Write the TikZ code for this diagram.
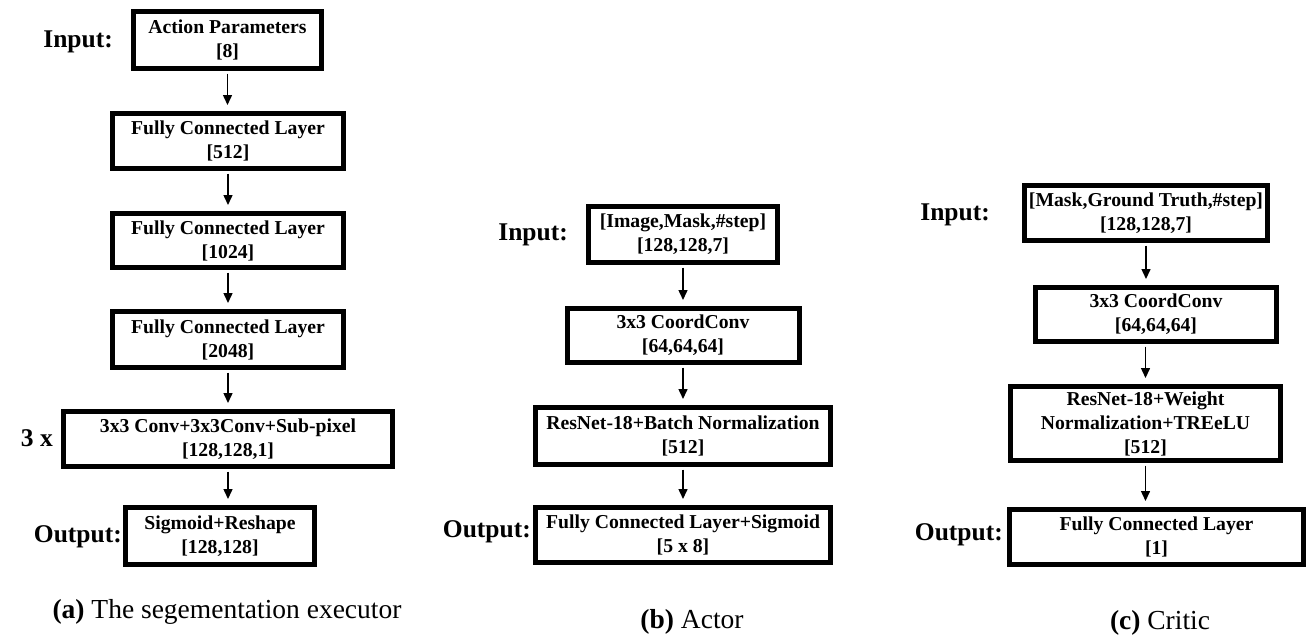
\documentclass[tikz,border=0pt]{standalone}
\usepackage{fontspec}
\setmainfont{Liberation Serif}
\usetikzlibrary{arrows.meta}
\tikzset{
	box/.style={draw, line width=5pt, align=center, inner sep=0pt, font=\bfseries\fontsize{19.7}{24}\selectfont},
	lbl/.style={anchor=east, inner sep=0pt, font=\bfseries\fontsize{25.5}{30}\selectfont},
	subcap/.style={inner sep=0pt, font=\fontsize{27.5}{32}\selectfont},
	flow/.style={->, line width=1.5pt, shorten <=2.5pt, shorten >=6pt}
}
\begin{document}
\begin{tikzpicture}[x=1pt, y=-1pt, >={Triangle[length=10pt, width=9pt]}]
		\useasboundingbox (0, 0) rectangle (1308, 634);
		% (a)
		\node [box, minimum width=188pt, minimum height=57pt] (0) at (227.5, 40) {Action Parameters\\{}[8]};
		\node [box, minimum width=231pt, minimum height=55pt] (1) at (228, 141) {Fully Connected Layer\\{}[512]};
		\node [box, minimum width=231pt, minimum height=54pt] (2) at (228, 240.5) {Fully Connected Layer\\{}[1024]};
		\node [box, minimum width=231pt, minimum height=56pt] (3) at (228, 339.5) {Fully Connected Layer\\{}[2048]};
		\node [box, minimum width=329pt, minimum height=55pt] (4) at (228, 439) {3x3 Conv+3x3Conv+Sub-pixel\\{}[128,128,1]};
		\node [box, minimum width=189pt, minimum height=57pt] (5) at (220, 536) {Sigmoid+Reshape\\{}[128,128]};
		\node [lbl] (14) at (113, 42) {Input:};
		\node [lbl] (15) at (53, 438) {3 x};
		\node [lbl] (16) at (122, 537) {Output:};
		\node [subcap] (17) at (227, 612) {\textbf{(a)} The segementation executor};
		\draw [flow] (0.south) to (0.south |- 1.north);
		\draw [flow] (1.south) to (2.north);
		\draw [flow] (2.south) to (3.north);
		\draw [flow] (3.south) to (4.north);
		\draw [flow] (4.south) to (4.south |- 5.north);
		% (b)
		\node [box, minimum width=189pt, minimum height=56pt] (6) at (683, 234.5) {[Image,Mask,\#step]\\{}[128,128,7]};
		\node [box, minimum width=232pt, minimum height=54pt] (7) at (683, 335.5) {3x3 CoordConv\\{}[64,64,64]};
		\node [box, minimum width=295pt, minimum height=57pt] (8) at (683, 436) {ResNet-18+Batch Normalization\\{}[512]};
		\node [box, minimum width=295pt, minimum height=55pt] (9) at (683, 535) {Fully Connected Layer+Sigmoid\\{}[5 x 8]};
		\node [lbl] (18) at (568, 235) {Input:};
		\node [lbl] (19) at (531, 532) {Output:};
		\node [subcap] (20) at (692, 622) {\textbf{(b)} Actor};
		\draw [flow] (6.south) to (7.north);
		\draw [flow] (7.south) to (8.north);
		\draw [flow] (8.south) to (9.north);
		% (c)
		\node [box, minimum width=243pt, minimum height=55pt] (10) at (1146, 213) {[Mask,Ground Truth,\#step]\\{}[128,128,7]};
		\node [box, minimum width=241pt, minimum height=54pt] (11) at (1156, 314.5) {3x3 CoordConv\\{}[64,64,64]};
		\node [box, minimum width=270pt, minimum height=74pt] (12) at (1145.5, 423.5) {ResNet-18+Weight\\Normalization+TREeLU\\{}[512]};
		\node [box, minimum width=294pt, minimum height=55pt] (13) at (1156.5, 537) {Fully Connected Layer\\{}[1]};
		\node [lbl] (21) at (990, 215) {Input:};
		\node [lbl] (22) at (1003, 535) {Output:};
		\node [subcap] (23) at (1160, 623) {\textbf{(c)} Critic};
		\draw [flow] (10.south) to (10.south |- 11.north);
		\draw [flow] (12.north |- 11.south) to (12.north);
		\draw [flow] (12.south) to (12.south |- 13.north);
\end{tikzpicture}
\end{document}
